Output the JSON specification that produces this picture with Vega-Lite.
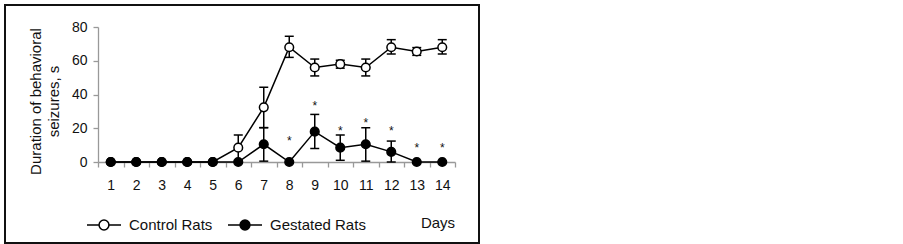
{
  "$schema": "https://vega.github.io/schema/vega-lite/v6.json",
  "width": 474,
  "height": 238,
  "autosize": {"type": "none"},
  "padding": {"left": 5, "top": 5, "right": 424, "bottom": 1},
  "background": "white",
  "config": {
    "view": {"stroke": "#111", "strokeWidth": 2},
    "font": "Liberation Sans",
    "axis": {"grid": false, "labelFont": "Liberation Sans", "titleFont": "Liberation Sans", "labelColor": "#111", "titleColor": "#111", "domainColor": "#999", "tickColor": "#999", "domainWidth": 1.3, "tickWidth": 1.3, "labelFontSize": 14, "titleFontSize": 15, "titleFontWeight": "normal", "tickSize": 5, "labelOverlap": false, "labelFlush": false},
    "axisX": {"offset": -81, "labelPadding": 11, "titleX": 432.5, "titleY": 60, "titleBaseline": "middle", "titleAlign": "center"},
    "axisY": {"offset": -93, "labelPadding": 6, "titleLineHeight": 18, "titleX": -63, "titleY": 96, "titleAngle": 270, "titleBaseline": "middle", "titleAlign": "center"}
  },
  "data": {
    "values": [
      {"day": 1, "group": "Control Rats", "mean": 0, "lo": 0, "hi": 0, "star": null},
      {"day": 2, "group": "Control Rats", "mean": 0, "lo": 0, "hi": 0, "star": null},
      {"day": 3, "group": "Control Rats", "mean": 0, "lo": 0, "hi": 0, "star": null},
      {"day": 4, "group": "Control Rats", "mean": 0, "lo": 0, "hi": 0, "star": null},
      {"day": 5, "group": "Control Rats", "mean": 0, "lo": 0, "hi": 0, "star": null},
      {"day": 6, "group": "Control Rats", "mean": 8.5, "lo": 1, "hi": 16, "star": null},
      {"day": 7, "group": "Control Rats", "mean": 32.4, "lo": 20.4, "hi": 44.3, "star": null},
      {"day": 8, "group": "Control Rats", "mean": 68, "lo": 62, "hi": 74.5, "star": null},
      {"day": 9, "group": "Control Rats", "mean": 56, "lo": 51, "hi": 61, "star": null},
      {"day": 10, "group": "Control Rats", "mean": 58, "lo": 55.6, "hi": 60.3, "star": null},
      {"day": 11, "group": "Control Rats", "mean": 56, "lo": 51, "hi": 61, "star": null},
      {"day": 12, "group": "Control Rats", "mean": 68, "lo": 64, "hi": 72.5, "star": null},
      {"day": 13, "group": "Control Rats", "mean": 65.5, "lo": 63.2, "hi": 67.8, "star": null},
      {"day": 14, "group": "Control Rats", "mean": 68, "lo": 64, "hi": 72.5, "star": null},
      {"day": 1, "group": "Gestated Rats", "mean": 0, "lo": 0, "hi": 0, "star": null},
      {"day": 2, "group": "Gestated Rats", "mean": 0, "lo": 0, "hi": 0, "star": null},
      {"day": 3, "group": "Gestated Rats", "mean": 0, "lo": 0, "hi": 0, "star": null},
      {"day": 4, "group": "Gestated Rats", "mean": 0, "lo": 0, "hi": 0, "star": null},
      {"day": 5, "group": "Gestated Rats", "mean": 0, "lo": 0, "hi": 0, "star": null},
      {"day": 6, "group": "Gestated Rats", "mean": 0, "lo": 0, "hi": 0, "star": null},
      {"day": 7, "group": "Gestated Rats", "mean": 10.5, "lo": 0.5, "hi": 20.3, "star": null},
      {"day": 8, "group": "Gestated Rats", "mean": 0, "lo": 0, "hi": 0, "star": 14.4},
      {"day": 9, "group": "Gestated Rats", "mean": 18, "lo": 8, "hi": 28.2, "star": 34.8},
      {"day": 10, "group": "Gestated Rats", "mean": 8.5, "lo": 1, "hi": 16, "star": 20.3},
      {"day": 11, "group": "Gestated Rats", "mean": 10.5, "lo": 0.5, "hi": 20.3, "star": 24.9},
      {"day": 12, "group": "Gestated Rats", "mean": 6, "lo": 0, "hi": 12.4, "star": 20.3},
      {"day": 13, "group": "Gestated Rats", "mean": 0, "lo": 0, "hi": 0, "star": 10.1},
      {"day": 14, "group": "Gestated Rats", "mean": 0, "lo": 0, "hi": 0, "star": 10.1}
    ]
  },
  "encoding": {
    "x": {
      "field": "day", "type": "quantitative",
      "scale": {"domain": [0.5, 14.5], "range": [93, 450], "nice": false, "zero": false},
      "axis": {
        "values": [0.5, 1, 1.5, 2, 2.5, 3, 3.5, 4, 4.5, 5, 5.5, 6, 6.5, 7, 7.5, 8, 8.5, 9, 9.5, 10, 10.5, 11, 11.5, 12, 12.5, 13, 13.5, 14, 14.5],
        "labelExpr": "datum.value % 1 == 0 ? format(datum.value, 'd') : ''",
        "tickOpacity": {"condition": {"test": "datum.value % 1 != 0", "value": 1}, "value": 0},
        "title": "Days"
      }
    },
    "y": {
      "field": "mean", "type": "quantitative",
      "scale": {"domain": [0, 80], "range": [157, 22], "nice": false},
      "axis": {"values": [0, 20, 40, 60, 80], "title": ["Duration of behavioral", "seizures, s"]}
    }
  },
  "layer": [
    {
      "mark": {"type": "line", "color": "black", "strokeWidth": 1.5},
      "encoding": {"detail": {"field": "group"}}
    },
    {
      "transform": [{"filter": "datum.hi > datum.lo"}],
      "mark": {"type": "rule", "color": "black", "strokeWidth": 1.5},
      "encoding": {
        "y": {
          "field": "lo", "type": "quantitative",
          "scale": {"domain": [0, 80], "range": [157, 22], "nice": false},
          "axis": {"values": [0, 20, 40, 60, 80], "title": ["Duration of behavioral", "seizures, s"]}
        },
        "y2": {"field": "hi"}
      }
    },
    {
      "transform": [{"filter": "datum.hi > datum.lo"}],
      "mark": {"type": "tick", "orient": "horizontal", "color": "black", "size": 9, "thickness": 1.5, "opacity": 1},
      "encoding": {
        "y": {
          "field": "hi", "type": "quantitative",
          "scale": {"domain": [0, 80], "range": [157, 22], "nice": false},
          "axis": {"values": [0, 20, 40, 60, 80], "title": ["Duration of behavioral", "seizures, s"]}
        }
      }
    },
    {
      "transform": [{"filter": "datum.hi > datum.lo"}],
      "mark": {"type": "tick", "orient": "horizontal", "color": "black", "size": 9, "thickness": 1.5, "opacity": 1},
      "encoding": {
        "y": {
          "field": "lo", "type": "quantitative",
          "scale": {"domain": [0, 80], "range": [157, 22], "nice": false},
          "axis": {"values": [0, 20, 40, 60, 80], "title": ["Duration of behavioral", "seizures, s"]}
        }
      }
    },
    {
      "mark": {"type": "point", "shape": "circle", "stroke": "black", "strokeWidth": 1.5, "size": 75, "opacity": 1, "filled": false},
      "encoding": {
        "fill": {
          "field": "group", "type": "nominal",
          "scale": {"domain": ["Control Rats", "Gestated Rats"], "range": ["white", "black"]},
          "legend": {
            "orient": "none",
            "legendX": 81,
            "legendY": 202,
            "direction": "horizontal",
            "title": null,
            "padding": 0,
            "symbolType": "M-1,0H-0.29M0.29,0H1M0.29,0A0.29,0.29 0 1,1 -0.29,0A0.29,0.29 0 1,1 0.29,0Z",
            "symbolSize": 1156,
            "symbolStrokeColor": "black",
            "symbolStrokeWidth": 1.5,
            "symbolOpacity": 1,
            "labelFont": "Liberation Sans",
            "labelFontSize": 15,
            "labelColor": "#111",
            "labelOffset": 7,
            "columnPadding": 12
          }
        },
        "order": {"field": "group"}
      }
    },
    {
      "transform": [{"filter": "datum.star != null"}],
      "mark": {"type": "text", "text": "*", "fontSize": 12, "baseline": "middle", "dy": 3, "color": "#111"},
      "encoding": {
        "y": {
          "field": "star", "type": "quantitative",
          "scale": {"domain": [0, 80], "range": [157, 22], "nice": false},
          "axis": {"values": [0, 20, 40, 60, 80], "title": ["Duration of behavioral", "seizures, s"]}
        }
      }
    }
  ]
}
